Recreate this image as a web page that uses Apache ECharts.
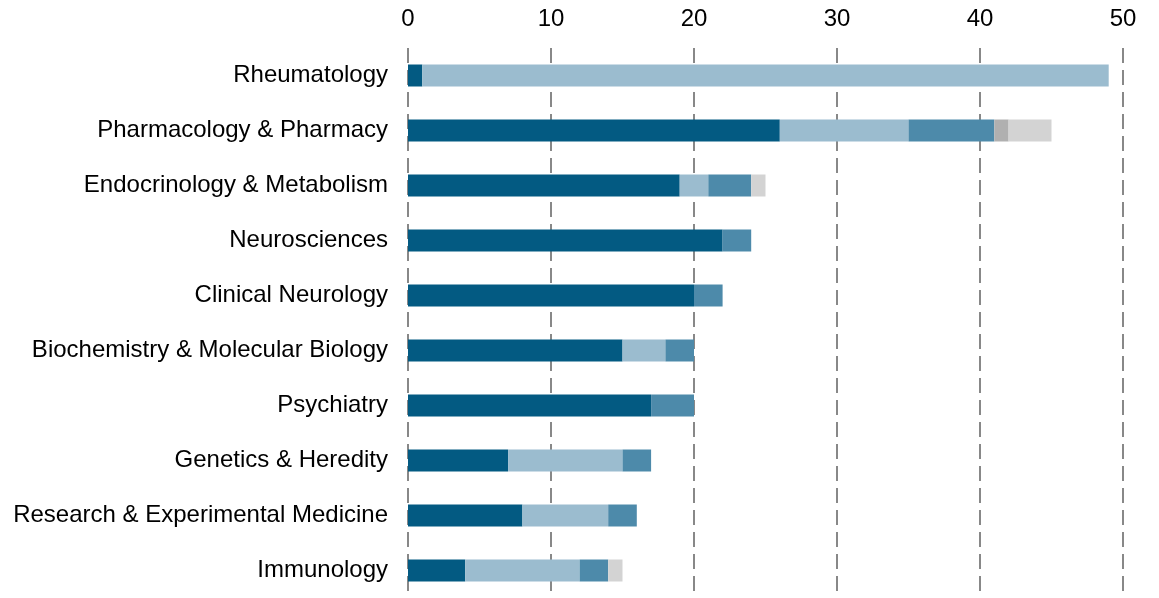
<!DOCTYPE html>
<html>
<head>
<meta charset="utf-8">
<script src="https://cdn.jsdelivr.net/npm/echarts@6/dist/echarts.min.js"></script>
<style>
  html, body { margin: 0; padding: 0; background: #fff; }
  #chart { width: 1159px; height: 598px; }
</style>
</head>
<body>
<div id="chart"></div>
<script>
// categories, top to bottom
const categories = [
  'Rheumatology',
  'Pharmacology & Pharmacy',
  'Endocrinology & Metabolism',
  'Neurosciences',
  'Clinical Neurology',
  'Biochemistry & Molecular Biology',
  'Psychiatry',
  'Genetics & Heredity',
  'Research & Experimental Medicine',
  'Immunology'
]

// stacked segments, left to right
const darkBlue = [1, 26, 19, 22, 20, 15, 17, 7, 8, 4]
const lightBlue = [48, 9, 2, 0, 0, 3, 0, 8, 6, 8]
const midBlue = [0, 6, 3, 2, 2, 2, 3, 2, 2, 2]
const grey = [0, 1, 0, 0, 0, 0, 0, 0, 0, 0]
const lightGrey = [0, 3, 1, 0, 0, 0, 0, 0, 0, 1]

const segments = [
  { name: 'darkBlue', data: darkBlue, color: '#035A82' },
  { name: 'lightBlue', data: lightBlue, color: '#9BBCCF' },
  { name: 'midBlue', data: midBlue, color: '#4D8AAA' },
  { name: 'grey', data: grey, color: '#B0B0B0' },
  { name: 'lightGrey', data: lightGrey, color: '#D3D3D3' }
]

const chart = echarts.init(document.getElementById('chart'))
const font = 'Liberation Sans, Arial, sans-serif'

chart.setOption({
  animation: false,
  grid: { left: 408, right: 36, top: 48, bottom: 0 },
  xAxis: {
    type: 'value',
    position: 'top',
    min: 0,
    max: 50,
    interval: 10,
    axisLine: { show: false },
    axisTick: { show: false },
    axisLabel: { color: '#000', fontSize: 24, fontFamily: font, margin: 17 },
    splitLine: {
      show: true,
      lineStyle: { color: '#888', width: 2, type: [15, 7] }
    }
  },
  yAxis: {
    type: 'category',
    inverse: true,
    data: categories,
    axisLine: { show: false },
    axisTick: { show: false },
    axisLabel: { color: '#000', fontSize: 24, fontFamily: font, margin: 20 }
  },
  series: segments.map(s => ({
    name: s.name,
    type: 'bar',
    stack: 'total',
    barWidth: 22,
    data: s.data,
    itemStyle: { color: s.color }
  }))
})
</script>
</body>
</html>
